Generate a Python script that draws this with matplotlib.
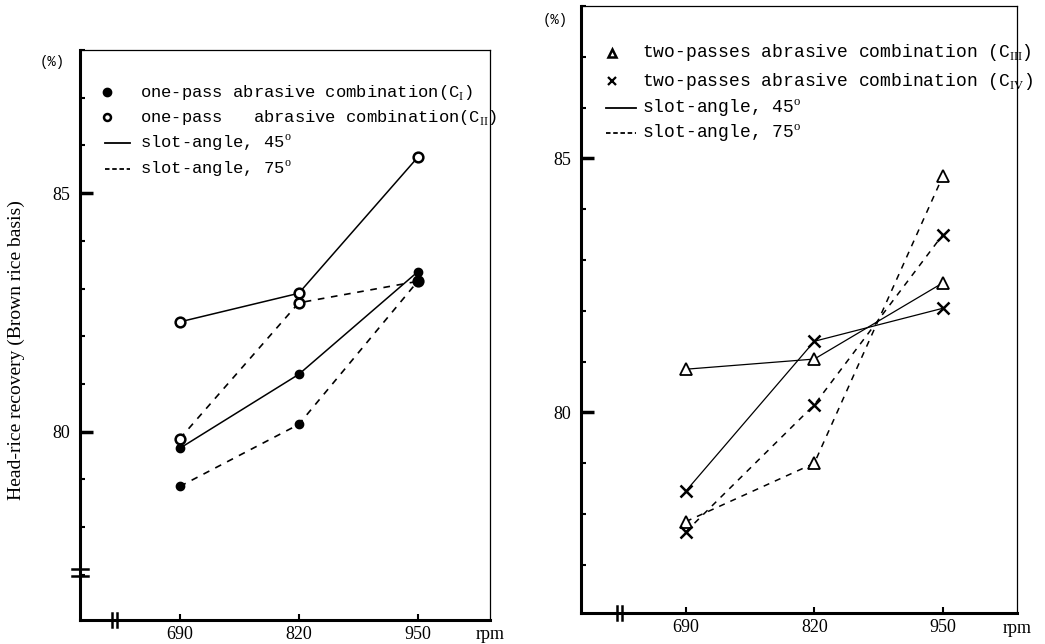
import matplotlib
matplotlib.use('Agg')
import matplotlib.pyplot as plt
from matplotlib.ticker import MultipleLocator

plt.rcParams['mathtext.fontset'] = 'custom'
plt.rcParams['mathtext.rm'] = 'Liberation Serif'

# rotor speed (rpm)
rpm = [690, 820, 950]
rpm_ticks = ['690', '820', '950']

# left panel: one-pass abrasive combinations
one_open_45 = [82.3, 82.9, 85.75]
one_open_75 = [79.85, 82.7, 83.15]
one_fill_45 = [79.65, 81.2, 83.35]
one_fill_75 = [78.85, 80.15, 83.15]

# right panel: two-passes abrasive combinations
two_tri_45 = [80.85, 81.05, 82.55]
two_x_45 = [78.45, 81.4, 82.05]
two_tri_75 = [77.85, 79.0, 84.65]
two_x_75 = [77.65, 80.15, 83.5]

y_major = [80, 85]

MONO = 'Liberation Mono'
SERIF = 'Liberation Serif'

fig = plt.figure(figsize=(10.45, 6.44), dpi=100)
ax1 = fig.add_axes([0.0766, 0.0373, 0.3923, 0.885])
ax2 = fig.add_axes([0.556, 0.0481, 0.4172, 0.9425])


def style_axis(ax, xlim):
    ax.set_xlim(*xlim)
    ax.set_ylim(76.05, 88.0)
    ax.set_xticks(rpm)
    ax.set_xticklabels(rpm_ticks, fontfamily=SERIF, fontsize=13)
    ax.set_yticks(y_major)
    ax.set_yticklabels([str(v) for v in y_major], fontfamily=SERIF, fontsize=13)
    ax.yaxis.set_minor_locator(MultipleLocator(1))
    ax.tick_params(axis='y', which='major', direction='in', length=9, width=2.5, pad=7)
    ax.tick_params(axis='y', which='minor', direction='in', length=3.5, width=1.5)
    ax.tick_params(axis='x', which='major', direction='in', length=4, width=1.5, pad=4)
    ax.spines['left'].set_linewidth(2.2)
    ax.spines['bottom'].set_linewidth(2.2)
    ax.spines['top'].set_linewidth(0.9)
    ax.spines['right'].set_linewidth(0.9)
    ax.text(1.0, -0.025, 'rpm', transform=ax.transAxes, ha='center', va='center',
            fontfamily=SERIF, fontsize=13)


def draw_legend(ax, entries, mx, tx, lx, rows, fs):
    for (kind, spec, label), y in zip(entries, rows):
        if kind == 'marker':
            ax.plot([mx], [y], transform=ax.transAxes, clip_on=False, **spec)
        else:
            ax.plot(lx, [y, y], transform=ax.transAxes, clip_on=False, color='black', **spec)
        ax.text(tx, y, label, transform=ax.transAxes, ha='left', va='center',
                fontfamily=MONO, fontsize=fs)


def break_marks(ax, pos, vertical):
    # small double bar on the axis to show a broken scale
    if vertical:
        for dx in (-0.006, 0.006):
            ax.plot([pos + dx, pos + dx], [-0.012, 0.012], transform=ax.transAxes,
                    color='black', lw=1.8, clip_on=False)
    else:
        for dy in (-0.006, 0.006):
            ax.plot([-0.02, 0.02], [pos + dy, pos + dy], transform=ax.transAxes,
                    color='black', lw=1.8, clip_on=False)


# ---- left panel
style_axis(ax1, (581, 1029))
ax1.plot(rpm, one_open_45, '-', color='black', lw=1.1, marker='o', ms=7,
         mfc='white', mec='black', mew=1.8)
ax1.plot(rpm, one_open_75, '--', color='black', lw=1.2, dashes=(4, 4), marker='o', ms=7,
         mfc='white', mec='black', mew=1.8)
ax1.plot(rpm, one_fill_45, '-', color='black', lw=1.1, marker='o', ms=6, mfc='black', mec='black')
ax1.plot(rpm, one_fill_75, '--', color='black', lw=1.2, dashes=(4, 4), marker='o', ms=6,
         mfc='black', mec='black')

left_entries = [
    ('marker', dict(marker='o', ms=6, mfc='black', mec='black', ls='none'),
     'one-pass abrasive combination(C$_{\\rm I}$)'),
    ('marker', dict(marker='o', ms=5, mfc='white', mec='black', mew=1.8, ls='none'),
     'one-pass   abrasive combination(C$_{\\rm II}$)'),
    ('line', dict(ls='-', lw=1.3), 'slot-angle, 45$^{\\rm o}$'),
    ('line', dict(ls='--', lw=1.3, dashes=(2.5, 1.5)), 'slot-angle, 75$^{\\rm o}$'),
]
draw_legend(ax1, left_entries, 0.066, 0.146, [0.061, 0.122],
            [0.926, 0.882, 0.837, 0.791], 12.3)

ax1.set_ylabel('Head-rice recovery (Brown rice basis)', fontfamily=SERIF, fontsize=14)
ax1.yaxis.set_label_coords(-0.134, 0.474)
ax1.text(-0.068, 0.979, '(%)', transform=ax1.transAxes, ha='center', va='center',
         fontfamily=MONO, fontsize=10)
break_marks(ax1, 0.085, vertical=True)
break_marks(ax1, 0.083, vertical=False)

# ---- right panel
style_axis(ax2, (584, 1025))
ax2.plot(rpm, two_tri_45, '-', color='black', lw=0.9, marker='^', ms=8,
         mfc='white', mec='black', mew=1.3)
ax2.plot(rpm, two_x_45, '-', color='black', lw=0.9, marker='x', ms=8, mew=1.8)
ax2.plot(rpm, two_tri_75, '--', color='black', lw=1.1, dashes=(4, 4), marker='^', ms=8,
         mfc='white', mec='black', mew=1.3)
ax2.plot(rpm, two_x_75, '--', color='black', lw=1.1, dashes=(4, 4), marker='x', ms=8, mew=1.8)

right_entries = [
    ('marker', dict(marker='^', ms=6, mfc='white', mec='black', mew=1.8, ls='none'),
     'two-passes abrasive combination (C$_{\\rm III}$)'),
    ('marker', dict(marker='x', ms=6, mec='black', mew=1.6, ls='none'),
     'two-passes abrasive combination (C$_{\\rm IV}$)'),
    ('line', dict(ls='-', lw=1.3), 'slot-angle, 45$^{\\rm o}$'),
    ('line', dict(ls='--', lw=1.3, dashes=(2.5, 1.5)), 'slot-angle, 75$^{\\rm o}$'),
]
draw_legend(ax2, right_entries, 0.071, 0.140, [0.057, 0.126],
            [0.923, 0.876, 0.832, 0.791], 13)

ax2.text(-0.06, 0.977, '(%)', transform=ax2.transAxes, ha='center', va='center',
         fontfamily=MONO, fontsize=10)
break_marks(ax2, 0.089, vertical=True)

fig.savefig('out.png', dpi=100)
